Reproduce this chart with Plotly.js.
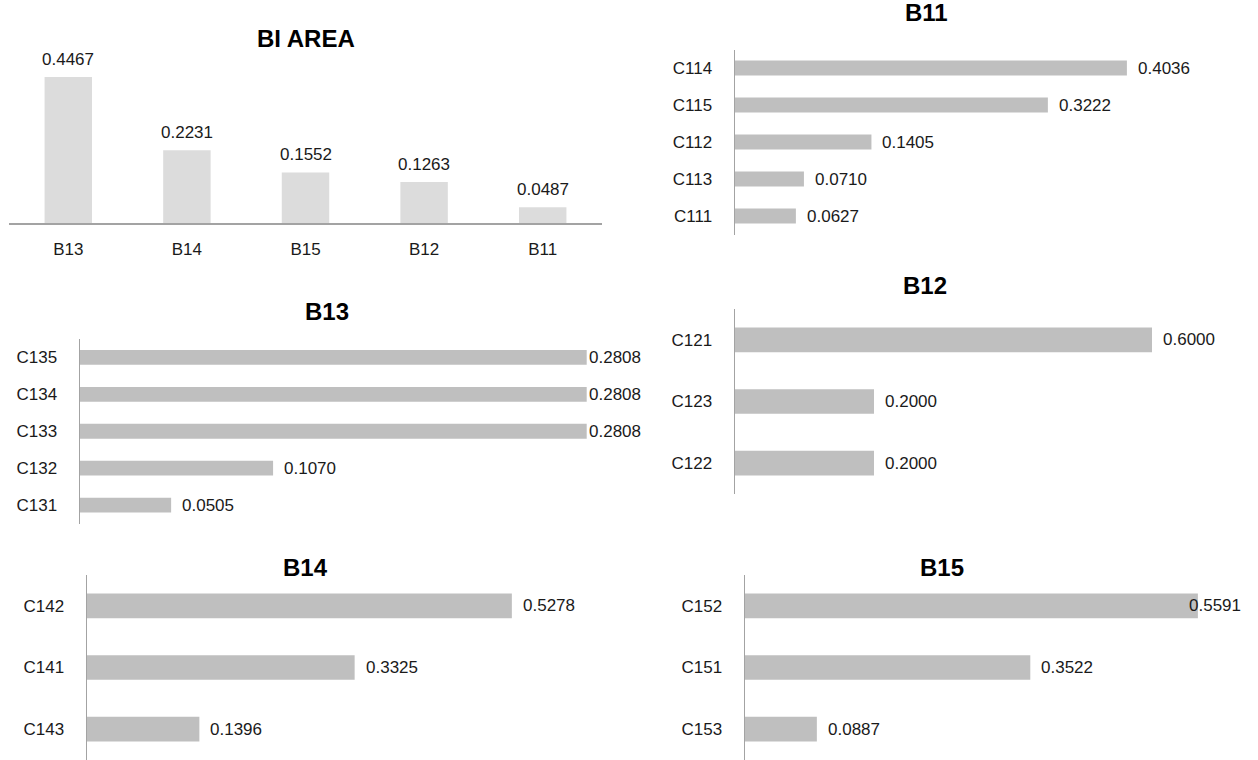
<!DOCTYPE html>
<html>
<head>
<meta charset="utf-8">
<script src="https://cdn.plot.ly/plotly-3.0.1.min.js"></script>
<style>
html,body{margin:0;padding:0;background:#fff;}
#chart{width:1258px;height:760px;}
</style>
</head>
<body>
<div id="chart"></div>
<script>
// ---- data ----
const biCats = ['B13', 'B14', 'B15', 'B12', 'B11'];
const biVals = [0.4467, 0.2231, 0.1552, 0.1263, 0.0487];

const b11Cats = ['C114', 'C115', 'C112', 'C113', 'C111'];
const b11Vals = [0.4036, 0.3222, 0.1405, 0.0710, 0.0627];

const b13Cats = ['C135', 'C134', 'C133', 'C132', 'C131'];
const b13Vals = [0.2808, 0.2808, 0.2808, 0.1070, 0.0505];

const b12Cats = ['C121', 'C123', 'C122'];
const b12Vals = [0.6000, 0.2000, 0.2000];

const b14Cats = ['C142', 'C141', 'C143'];
const b14Vals = [0.5278, 0.3325, 0.1396];

const b15Cats = ['C152', 'C151', 'C153'];
const b15Vals = [0.5591, 0.3522, 0.0887];

// ---- styling / layout ----
const W = 1258, H = 760;
const FONT = 'Liberation Sans, Arial, sans-serif';
const LABEL_SIZE = 17;
const TITLE_SIZE = 24;
const AXIS_COLOR = '#a3a3a3';
const TEXT_COLOR = '#1a1a1a';

function dom(a, b, total) { return [Math.max(0, a / total), Math.min(1, b / total)]; }
function ydom(top, bottom) { return [Math.max(0, 1 - bottom / H), Math.min(1, 1 - top / H)]; }

const canvas = document.createElement('canvas');
const ctx = canvas.getContext('2d');
ctx.font = LABEL_SIZE + 'px "Liberation Sans"';
function textW(s) { return ctx.measureText(s).width; }

const fmt = v => v.toFixed(4);

const hPanels = [
  {title: 'B11', cats: b11Cats, vals: b11Vals, l: 735, r: 1221, t: 49.5, b: 234.5, range: 0.5005, tx: 926, ty: 12},
  {title: 'B13', cats: b13Cats, vals: b13Vals, l: 80, r: 643, t: 339, b: 523.5, range: 0.312, tx: 327, ty: 311},
  {title: 'B12', cats: b12Cats, vals: b12Vals, l: 735, r: 1221, t: 309, b: 494, range: 0.6993, tx: 925, ty: 285},
  {title: 'B14', cats: b14Cats, vals: b14Vals, l: 87, r: 602, t: 575, b: 760, range: 0.6398, tx: 305, ty: 567},
  {title: 'B15', cats: b15Cats, vals: b15Vals, l: 745, r: 1243, t: 575, b: 760, range: 0.6148, tx: 942, ty: 567}
];

const data = [];
const layout = {
  width: W, height: H,
  margin: {l: 0, r: 0, t: 0, b: 0},
  paper_bgcolor: '#fff', plot_bgcolor: '#fff',
  showlegend: false,
  bargap: 0.6,
  font: {family: FONT, size: LABEL_SIZE, color: TEXT_COLOR},
  annotations: []
};

// Panel 1: BI AREA vertical bars
data.push({
  type: 'bar', x: biCats, y: biVals, xaxis: 'x', yaxis: 'y',
  marker: {color: '#dcdcdc'}, hoverinfo: 'none'
});
layout.xaxis = {
  domain: dom(9, 602, W), type: 'category', showline: true, linecolor: AXIS_COLOR, linewidth: 1.5,
  ticks: '', showgrid: false, zeroline: false, ticklabelstandoff: 10,
  tickfont: {family: FONT, size: LABEL_SIZE, color: TEXT_COLOR}, anchor: 'y', fixedrange: true
};
layout.yaxis = {
  domain: ydom(59.6, 223.3), range: [0, 0.5], visible: false, showgrid: false, zeroline: false,
  anchor: 'x', fixedrange: true
};
biCats.forEach((c, i) => {
  layout.annotations.push({
    xref: 'x', yref: 'y', x: c, y: biVals[i], text: fmt(biVals[i]),
    showarrow: false, xanchor: 'center', yanchor: 'bottom', yshift: 6,
    font: {family: FONT, size: LABEL_SIZE, color: TEXT_COLOR}
  });
});
layout.annotations.push({
  xref: 'paper', yref: 'paper', x: 306 / W, y: 1 - 38 / H, text: '<b>BI AREA</b>',
  showarrow: false, xanchor: 'center', yanchor: 'middle',
  font: {family: FONT, size: TITLE_SIZE, color: '#000'}
});

// Horizontal panels
hPanels.forEach((p, k) => {
  const n = k + 2;
  const xa = 'x' + n, ya = 'y' + n;
  data.push({
    type: 'bar', orientation: 'h', x: p.vals, y: p.cats, xaxis: xa, yaxis: ya,
    marker: {color: '#bfbfbf'}, hoverinfo: 'none'
  });
  layout['xaxis' + n] = {
    domain: dom(p.l, p.r, W), range: [0, p.range], visible: false, showgrid: false,
    zeroline: false, anchor: ya, fixedrange: true
  };
  layout['yaxis' + n] = {
    domain: ydom(p.t, p.b), type: 'category', autorange: 'reversed', showline: true,
    linecolor: AXIS_COLOR, linewidth: 1.5, ticks: '', showgrid: false, zeroline: false,
    ticklabelstandoff: 18, tickfont: {family: FONT, size: LABEL_SIZE, color: TEXT_COLOR},
    anchor: xa, fixedrange: true
  };
  const plotW = p.r - p.l;
  const scale = plotW / p.range;
  const gap = 11;
  p.cats.forEach((c, i) => {
    const v = p.vals[i];
    const t = fmt(v);
    const w = textW(t) + 4;
    const fits = v * scale + gap + w <= plotW;
    layout.annotations.push({
      xref: xa, yref: ya, x: fits ? v : p.range, y: c, text: t,
      showarrow: false, xanchor: fits ? 'left' : 'right', xshift: fits ? gap - 2 : 0,
      yanchor: 'middle',
      font: {family: FONT, size: LABEL_SIZE, color: TEXT_COLOR}
    });
  });
  layout.annotations.push({
    xref: 'paper', yref: 'paper', x: p.tx / W, y: 1 - p.ty / H, text: '<b>' + p.title + '</b>',
    showarrow: false, xanchor: 'center', yanchor: 'middle',
    font: {family: FONT, size: TITLE_SIZE, color: '#000'}
  });
});

Plotly.newPlot('chart', data, layout, {displayModeBar: false, staticPlot: true});
</script>
</body>
</html>
